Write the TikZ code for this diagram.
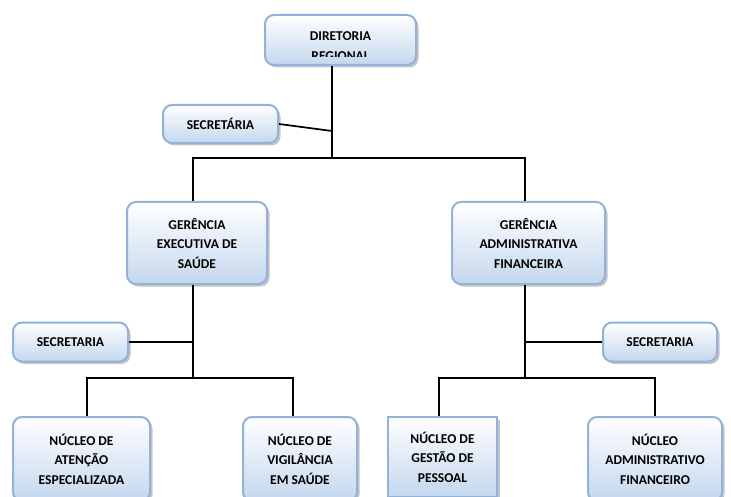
\documentclass[tikz,border=0pt]{standalone}
\usepackage{fontspec}
\setmainfont{Carlito}
\usetikzlibrary{shadows}
\definecolor{boxline}{HTML}{92B2D9}
\definecolor{boxfill}{HTML}{C4D7EE}
\tikzset{
  caixa/.style={draw=boxline, line width=2pt, rounded corners=9pt,
    top color=white, bottom color=boxfill,
    drop shadow={shadow xshift=2.5pt, shadow yshift=-2.5pt, fill=black!50, opacity=.45},
    align=center, inner sep=0pt, font=\fontsize{13.5}{19.5}\selectfont\bfseries},
  texto/.style={align=center, inner sep=0pt, font=\fontsize{13.5}{19.5}\selectfont\bfseries},
  liga/.style={line width=1.7pt}
}
\begin{document}
\begin{tikzpicture}[x=1pt,y=-1pt]
        \clip (0,0) rectangle (731,497);
        \fill[white] (0,0) rectangle (731,497);
        \node[caixa, minimum width=151pt, minimum height=50pt] (dir) at (340.5,40) {};
        \begin{scope}
          \clip (265,20) rectangle (416,56.5);
          \node[texto] (dirtxt) at (340.5,46) {DIRETORIA\\REGIONAL};
        \end{scope}
        \node[caixa, minimum width=115pt, minimum height=38pt] (sec1) at (220.5,124) {SECRETÁRIA};
        \node[caixa, minimum width=140pt, minimum height=82pt] (ges) at (197,243) {GERÊNCIA\\EXECUTIVA DE\\SAÚDE};
        \node[caixa, minimum width=153pt, minimum height=82pt] (gaf) at (528.5,243) {GERÊNCIA\\ADMINISTRATIVA\\FINANCEIRA};
        \node[caixa, minimum width=115pt, minimum height=39pt] (sec2) at (70.5,342) {SECRETARIA};
        \node[caixa, minimum width=114pt, minimum height=39pt] (sec3) at (660,342) {SECRETARIA};
        \node[caixa, minimum width=137pt, minimum height=84pt] (nae) at (81.5,459) {NÚCLEO DE\\ATENÇÃO\\ESPECIALIZADA};
        \node[caixa, minimum width=114pt, minimum height=84pt] (nvs) at (300,459) {NÚCLEO DE\\VIGILÂNCIA\\EM SAÚDE};
        \node[caixa, sharp corners, minimum width=109pt, minimum height=80pt] (ngp) at (442.5,457) {NÚCLEO DE\\GESTÃO DE\\PESSOAL};
        \node[caixa, minimum width=134pt, minimum height=84pt] (naf) at (655,459) {NÚCLEO\\ADMINISTRATIVO\\FINANCEIRO};
        \coordinate (t1) at (332,131);
        \coordinate (b1) at (332,158);
        \coordinate (j1) at (193,158);
        \coordinate (j2) at (525,158);
        \coordinate (k1) at (193,378);
        \coordinate (k2) at (87,378);
        \coordinate (k3) at (293,378);
        \coordinate (k4) at (525,378);
        \coordinate (k5) at (439,378);
        \coordinate (k6) at (655,378);
        \draw[liga] (b1 |- dir.south) -- (b1);
        \draw[liga] (sec1.east) -- (t1);
        \draw[liga] (j1 |- ges.north) -- (j1) -- (j2) -- (j2 |- gaf.north);
        \draw[liga] (k1 |- ges.south) -- (k1);
        \draw[liga] (sec2.east) -- (sec2.east -| k1);
        \draw[liga] (k2 |- nae.north) -- (k2) -- (k3) -- (k3 |- nvs.north);
        \draw[liga] (k4 |- gaf.south) -- (k4);
        \draw[liga] (sec3.west) -- (sec3.west -| k4);
        \draw[liga] (k5 |- ngp.north) -- (k5) -- (k6) -- (k6 |- naf.north);
      \end{tikzpicture}
\end{document}
